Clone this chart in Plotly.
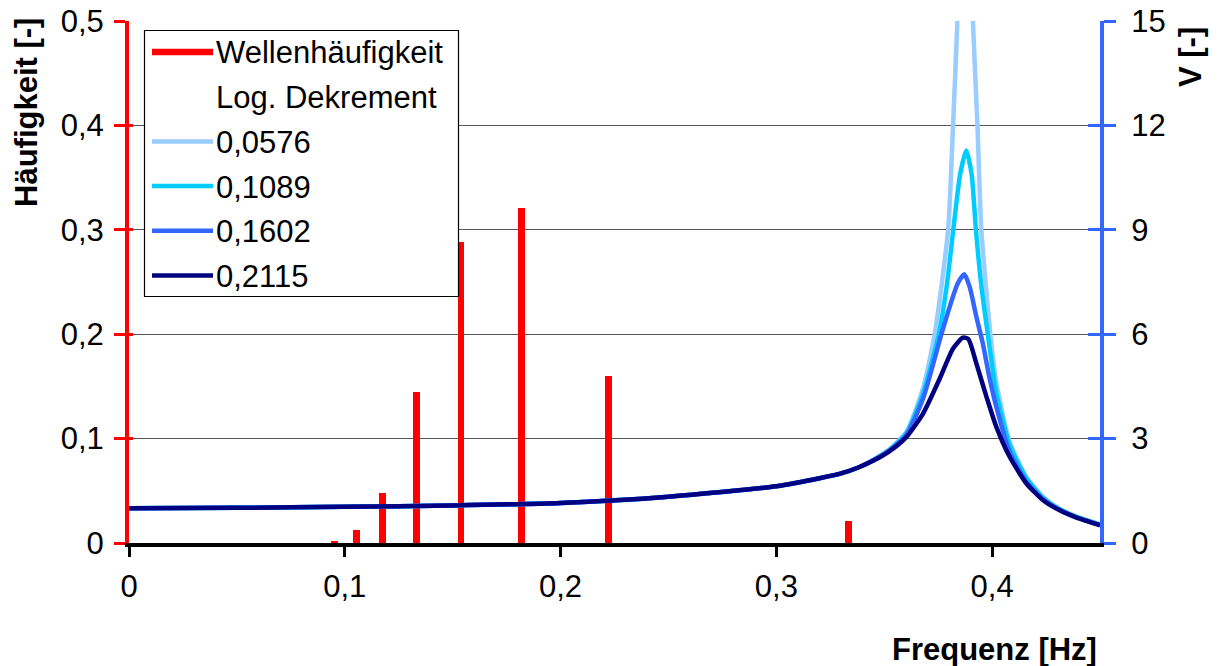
import plotly.graph_objects as go

# ---- wave frequency distribution (left axis) ----
wave_freq = [0.0952, 0.1053, 0.1176, 0.1333, 0.1538, 0.1818, 0.2222, 0.3333]
wave_share = [0.002, 0.012, 0.048, 0.145, 0.288, 0.321, 0.160, 0.021]

# ---- dynamic amplification V for four log. decrements (right axis) ----
# shared low-frequency branch (all four curves coincide here)
f_low = [0.0, 0.05, 0.10, 0.15, 0.20, 0.25, 0.30, 0.32, 0.33, 0.338]
v_low = [1.00, 1.01, 1.04, 1.08, 1.15, 1.33, 1.63, 1.86, 2.00, 2.17]

f_0576 = [0.3448, 0.3525, 0.3603, 0.368, 0.3734, 0.3796, 0.3819, 0.3839, 0.386, 0.3875,
          0.389, 0.3911, 0.3932, 0.395, 0.3992, 0.402, 0.4082, 0.4159, 0.4236, 0.4313, 0.4391, 0.45]
v_0576 = [2.39, 2.70, 3.20, 4.45, 6.00, 9.00, 12.0, 15.0, 19.0, 21.0,
          19.0, 15.0, 12.0, 9.00, 6.00, 4.60, 2.90, 1.90, 1.32, 0.98, 0.76, 0.53]

f_1089 = [0.3448, 0.3525, 0.3603, 0.368, 0.3753, 0.379, 0.382, 0.3852, 0.388, 0.3905,
          0.3925, 0.395, 0.398, 0.402, 0.4082, 0.4159, 0.4236, 0.4313, 0.4391, 0.45]
v_1089 = [2.38, 2.68, 3.15, 4.30, 6.00, 7.40, 9.00, 10.6, 11.28, 10.6,
          9.00, 7.40, 6.00, 4.30, 2.80, 1.85, 1.30, 0.97, 0.75, 0.53]

f_1602 = [0.3448, 0.3525, 0.3603, 0.368, 0.3765, 0.3804, 0.384, 0.3871, 0.3896, 0.3927,
          0.3957, 0.3987, 0.402, 0.4082, 0.4159, 0.4236, 0.4313, 0.4391, 0.45]
v_1602 = [2.37, 2.66, 3.10, 4.15, 6.00, 6.80, 7.45, 7.72, 7.36, 6.50,
          5.73, 4.77, 3.90, 2.60, 1.76, 1.26, 0.95, 0.74, 0.52]

f_2115 = [0.3448, 0.3525, 0.3603, 0.368, 0.3757, 0.3819, 0.3865, 0.389, 0.3927, 0.3974,
          0.402, 0.4082, 0.4159, 0.4236, 0.4313, 0.4391, 0.45]
v_2115 = [2.36, 2.64, 3.05, 3.72, 4.72, 5.59, 5.90, 5.86, 5.16, 4.20,
          3.33, 2.47, 1.71, 1.23, 0.94, 0.73, 0.51]

decrement_labels = ["0,0576", "0,1089", "0,1602", "0,2115"]
curve_colors = ["#99CCFF", "#00CCFF", "#3366FF", "#000080"]
curves = [(f_0576, v_0576), (f_1089, v_1089), (f_1602, v_1602), (f_2115, v_2115)]

x_ticks = [0, 0.1, 0.2, 0.3, 0.4]
y_ticks = [0, 0.1, 0.2, 0.3, 0.4, 0.5]
v_ticks = [0, 3, 6, 9, 12, 15]

RED = "#FF0000"
BLUE = "#3366FF"
FONT = "Liberation Sans, Arial, sans-serif"
FS = 31

# plot-area geometry in pixels (used for the legend box and titles)
L, R, T, B = 129, 1100, 21, 543
W_FIG, H_FIG = 1220, 666


def px_x(p):
    return (p - L) / (R - L)


def px_y(p):
    return (B - p) / (B - T)


fig = go.Figure()

fig.add_trace(go.Bar(
    x=wave_freq, y=wave_share, width=0.0031, marker=dict(color=RED, line=dict(width=0)),
    name="Wellenhäufigkeit", showlegend=False, yaxis="y", hoverinfo="x+y",
))

for (fx, vy), lab, col in zip(curves, decrement_labels, curve_colors):
    fig.add_trace(go.Scatter(
        x=f_low + fx, y=v_low + vy, mode="lines", name=lab, yaxis="y2",
        line=dict(color=col, width=4.5, shape="spline", smoothing=0.6),
        showlegend=False,
    ))

# empty helpers so the overlay tick axes are drawn
fig.add_trace(go.Scatter(x=[None], y=[None], yaxis="y3", showlegend=False, hoverinfo="skip"))
fig.add_trace(go.Scatter(x=[None], y=[None], yaxis="y4", showlegend=False, hoverinfo="skip"))

tickfont = dict(family=FONT, size=FS, color="black")

fig.update_layout(
    width=W_FIG, height=H_FIG,
    margin=dict(l=L, r=W_FIG - R, t=T, b=H_FIG - B, pad=0, autoexpand=False),
    paper_bgcolor="white", plot_bgcolor="white",
    separators=",.",
    showlegend=False,
    bargap=0,
    xaxis=dict(
        range=[0, 0.45], tickvals=x_ticks, ticktext=["0", "0,1", "0,2", "0,3", "0,4"],
        showgrid=False, zeroline=False, automargin=False,
        showline=True, linecolor="black", linewidth=4,
        ticks="outside", ticklen=10, tickwidth=3, tickcolor="black",
        tickfont=tickfont, ticklabelstandoff=3,
    ),
    yaxis=dict(
        range=[0, 0.5], tickvals=y_ticks, ticktext=["0", "0,1", "0,2", "0,3", "0,4", "0,5"],
        showgrid=True, gridcolor="#555555", gridwidth=1, zeroline=False, automargin=False,
        showline=True, linecolor=RED, linewidth=4,
        ticks="outside", ticklen=11, tickwidth=3, tickcolor=RED,
        tickfont=tickfont, ticklabelstandoff=4,
    ),
    yaxis2=dict(
        range=[0, 15], tickvals=v_ticks, overlaying="y", side="right", anchor="x",
        showgrid=False, zeroline=False, automargin=False,
        showline=True, linecolor=BLUE, linewidth=4,
        ticks="outside", ticklen=12, tickwidth=3, tickcolor=BLUE,
        tickfont=tickfont, ticklabelstandoff=9,
    ),
    yaxis3=dict(
        range=[0, 15], tickvals=v_ticks, overlaying="y", side="right", anchor="x",
        showgrid=False, zeroline=False, showline=False, showticklabels=False, automargin=False,
        ticks="inside", ticklen=12, tickwidth=3, tickcolor=BLUE,
    ),
    yaxis4=dict(
        range=[0, 0.5], tickvals=y_ticks, overlaying="y", side="left", anchor="x",
        showgrid=False, zeroline=False, showline=False, showticklabels=False, automargin=False,
        ticks="inside", ticklen=4, tickwidth=3, tickcolor=RED,
    ),
)

# axis titles
title_font = dict(family=FONT, size=31, color="black", weight="bold")
fig.add_annotation(text="Häufigkeit [-]", xref="paper", yref="paper",
                   x=px_x(26), y=px_y(113), textangle=-90, showarrow=False,
                   xanchor="center", yanchor="middle", font=title_font)
fig.add_annotation(text="V [-]", xref="paper", yref="paper",
                   x=px_x(1190), y=px_y(57), textangle=-90, showarrow=False,
                   xanchor="center", yanchor="middle", font=title_font)
fig.add_annotation(text="Frequenz [Hz]", xref="paper", yref="paper",
                   x=px_x(1099), y=px_y(649), showarrow=False,
                   xanchor="right", yanchor="middle", font=title_font)

# legend box
legend_labels = ["Wellenhäufigkeit", "Log. Dekrement"] + decrement_labels
legend_colors = [RED, None] + curve_colors
legend_widths = [6.5, 0] + [4.5] * 4
fig.add_shape(type="rect", xref="paper", yref="paper",
              x0=px_x(144.5), x1=px_x(458.5), y0=px_y(296.5), y1=px_y(30.5),
              fillcolor="white", line=dict(color="black", width=1.2), layer="above")
for i, (lab, col, lw) in enumerate(zip(legend_labels, legend_colors, legend_widths)):
    yc = 52 + 44.7 * i
    if col is not None:
        fig.add_shape(type="line", xref="paper", yref="paper",
                      x0=px_x(152), x1=px_x(213), y0=px_y(yc), y1=px_y(yc),
                      line=dict(color=col, width=lw), layer="above")
    fig.add_annotation(text=lab, xref="paper", yref="paper",
                       x=px_x(214), y=px_y(yc + 1), showarrow=False,
                       xanchor="left", yanchor="middle",
                       font=dict(family=FONT, size=FS, color="black"))

fig.write_html("out.html")
